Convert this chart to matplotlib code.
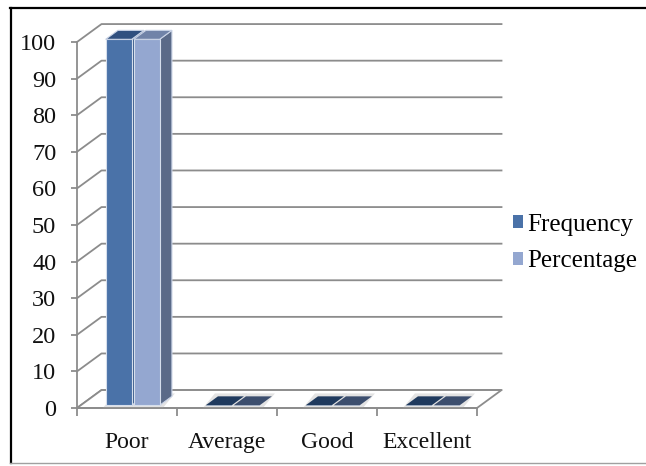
import matplotlib.pyplot as plt
from matplotlib.patches import Polygon, Patch
from matplotlib.lines import Line2D

plt.rcParams['font.family'] = ['Liberation Serif', 'DejaVu Serif']

# Data
categories = ['Poor', 'Average', 'Good', 'Excellent']
frequency = [100, 0, 0, 0]
percentage = [100, 0, 0, 0]
yticks = list(range(0, 101, 10))

series = [
    # label, values, x offset, front, top, side, flat top (zero value)
    ('Frequency', frequency, -0.25, '#4A72A8', '#30507F', '#3A5C8C', '#1F3A5E'),
    ('Percentage', percentage, 0.03, '#94A7D0', '#7083A8', '#5A6A88', '#3C4E6E'),
]

# fake 3d depth (x in category units, y in value units)
dx, dy = 0.245, 4.9
d0, d1 = 0.15, 0.65
bw = 0.26
grid_col = '#8C8C8C'

fig = plt.figure(figsize=(6.46, 4.66), dpi=100)
ax = fig.add_axes([77 / 646, 58 / 466, 400 / 646, 366 / 466])
ax.set_xlim(-0.5, 3.5)
ax.set_ylim(0, 100)
ax.patch.set_visible(False)

# back wall + side wall gridlines
for v in yticks:
    ax.plot([-0.5, -0.5 + dx, 3.5 + dx], [v, v + dy, v + dy],
            color=grid_col, lw=1.3, zorder=1, clip_on=False)

# floor
ax.add_patch(Polygon([(-0.5, 0), (3.5, 0), (3.5 + dx, dy), (-0.5 + dx, dy)],
                     closed=True, fc='white', ec=grid_col, lw=1.3,
                     zorder=1.5, clip_on=False))

# bars
ddx, ddy = dx * (d1 - d0), dy * (d1 - d0)
for k, (label, vals, off, c_front, c_top, c_side, c_flat) in enumerate(series):
    z = 3 + k
    xs = [i + off + dx * d0 for i in range(len(categories))]
    # floor shadow
    for x0 in xs:
        ax.add_patch(Polygon([(x0 - 0.03, dy * d0 - 0.8), (x0 + bw + 0.03, dy * d0 - 0.8),
                              (x0 + bw + 0.03 + ddx, dy * d1 + 0.8),
                              (x0 - 0.03 + ddx, dy * d1 + 0.8)],
                             closed=True, fc='#E3E3E3', ec='none', zorder=2, clip_on=False))
    ax.bar(xs, vals, width=bw, bottom=dy * d0, align='edge', color=c_front,
           edgecolor='#D5DEEC', linewidth=0.8, zorder=z + 0.5, clip_on=False)
    for x0, v in zip(xs, vals):
        top = v + dy * d0
        ax.add_patch(Polygon([(x0, top), (x0 + bw, top), (x0 + bw + ddx, top + ddy),
                              (x0 + ddx, top + ddy)], closed=True,
                             fc=c_top if v > 0 else c_flat,
                             ec='#C9D3E6' if v > 0 else 'none', lw=0.8,
                             zorder=z + 0.5, clip_on=False))
        if v > 0:
            ax.add_patch(Polygon([(x0 + bw, dy * d0), (x0 + bw, top),
                                  (x0 + bw + ddx, top + ddy), (x0 + bw + ddx, dy * d1)],
                                 closed=True, fc=c_side, ec='#C9D3E6', lw=0.8,
                                 zorder=z, clip_on=False))

# axes styling
for s in ['top', 'right']:
    ax.spines[s].set_visible(False)
for s in ['left', 'bottom']:
    ax.spines[s].set_color(grid_col)
    ax.spines[s].set_linewidth(1.3)
    ax.spines[s].set_zorder(6)

ax.set_yticks(yticks)
ax.tick_params(axis='y', length=4, width=1.3, color=grid_col, pad=11,
               labelsize=17.5, labelcolor='#111111')
ax.set_xticks([-0.5, 0.5, 1.5, 2.5, 3.5])
ax.set_xticklabels([])
ax.tick_params(axis='x', which='major', length=6, width=1.3, color=grid_col)
ax.set_xticks(range(len(categories)), minor=True)
ax.set_xticklabels(categories, minor=True)
ax.tick_params(axis='x', which='minor', length=0, pad=17,
               labelsize=17, labelcolor='#111111')

handles = [Patch(fc=s[3], ec='none') for s in series]
fig.legend(handles, [s[0] for s in series], loc='center left',
           bbox_to_anchor=(503 / 646, 1 - 243 / 466), frameon=False,
           fontsize=18, handlelength=0.4, handleheight=0.4,
           handletextpad=0.15, labelspacing=0.6, borderaxespad=0)

# outer frame
fig.add_artist(Line2D([10.5 / 646, 10.5 / 646], [1 - 7.5 / 466, 1 - 463 / 466], color='black', lw=1.6))
fig.add_artist(Line2D([10 / 646, 1], [1 - 7.5 / 466, 1 - 7.5 / 466], color='black', lw=1.6))
fig.add_artist(Line2D([10 / 646, 1], [1 - 463 / 466, 1 - 463 / 466], color='#A0A0A0', lw=1.0))

plt.savefig('out.png', dpi=100)
